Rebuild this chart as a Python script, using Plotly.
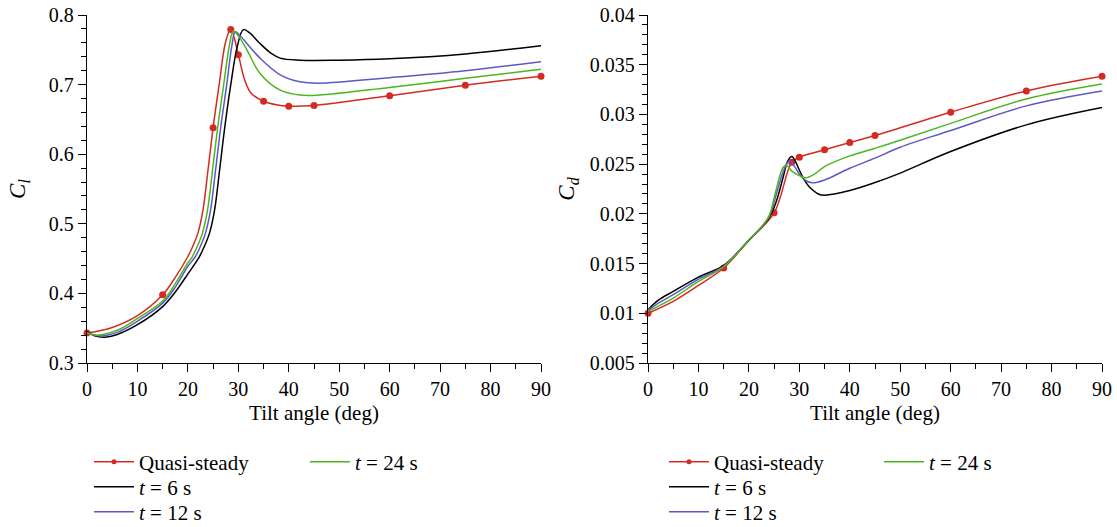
import plotly.graph_objects as go

# ---------------- lift coefficient C_l ----------------
# Quasi-steady markers
qs_angle = [0, 15, 25, 28.5, 30, 35, 40, 45, 60, 75, 90]
qs_cl = [0.343, 0.398, 0.638, 0.779, 0.743, 0.676, 0.669, 0.670, 0.684, 0.699, 0.712]
# Quasi-steady curve (passes through the markers)
qs_cl_line_angle = [0, 5, 10, 15, 17.5, 20, 21, 22, 23, 24, 25, 26.2, 27.5, 28.5, 30, 31.2,
                    32.5, 35, 37.5, 40, 45, 60, 75, 90]
qs_cl_line = [0.343, 0.351, 0.368, 0.398, 0.423, 0.453, 0.468, 0.487, 0.520, 0.578, 0.638,
              0.700, 0.762, 0.779, 0.743, 0.708, 0.688, 0.676, 0.671, 0.669, 0.670, 0.684,
              0.699, 0.712]

t6_cl_angle = [0, 1.5, 3.5, 6, 10, 15, 17.5, 20, 22.3, 23.3, 24.3, 25.3, 26.3, 27.3, 28.5,
               29.8, 31.0, 32.3, 34.3, 36.5, 38.3, 42.2, 50, 60, 75, 90]
t6_cl = [0.345, 0.339, 0.337, 0.341, 0.355, 0.381, 0.402, 0.428, 0.453, 0.468, 0.487,
         0.520, 0.578, 0.638, 0.700, 0.755, 0.779, 0.774, 0.759, 0.745, 0.738, 0.735,
         0.735, 0.737, 0.744, 0.756]

t12_cl_angle = [0, 2.5, 6, 10, 15, 17.5, 20, 21.5, 22.5, 23.5, 24.5, 25.5, 26.5, 27.7,
                28.7, 29.4, 30.5, 31.7, 34.3, 38.3, 42.2, 46, 60, 75, 90]
t12_cl = [0.344, 0.339, 0.344, 0.360, 0.386, 0.409, 0.439, 0.453, 0.468, 0.487, 0.520,
          0.578, 0.638, 0.700, 0.755, 0.776, 0.769, 0.759, 0.738, 0.714, 0.704, 0.702,
          0.710, 0.720, 0.733]

t24_cl_angle = [0, 2, 6, 10, 15, 17.5, 20, 20.9, 21.9, 22.9, 23.9, 24.9, 25.9, 27.1, 28.2,
                29, 30, 31.7, 34.3, 38.3, 42.2, 46, 60, 75, 90]
t24_cl = [0.343, 0.340, 0.347, 0.364, 0.389, 0.414, 0.444, 0.453, 0.468, 0.487, 0.520,
          0.578, 0.638, 0.700, 0.755, 0.777, 0.770, 0.750, 0.716, 0.692, 0.685, 0.685,
          0.696, 0.709, 0.722]

# ---------------- drag coefficient C_d ----------------
qs_cd = [0.0100, 0.01455, 0.0201, 0.0252, 0.0257, 0.02644, 0.02717, 0.02788, 0.03022,
         0.03236, 0.03384]
qs_cd_line_angle = [0, 5, 10, 15, 20, 25, 28.5, 30, 35, 40, 45, 60, 75, 90]
qs_cd_line = [0.0100, 0.0112, 0.0128, 0.01455, 0.01733, 0.0201, 0.0252, 0.0257, 0.02644,
              0.02717, 0.02788, 0.03022, 0.03236, 0.03384]

t6_cd_angle = [0, 2, 5, 10, 15, 20, 22, 24, 25.4, 26.8, 27.7, 28.5, 29.2, 30, 31, 32,
               34, 35, 40, 45, 50, 60, 75, 90]
t6_cd = [0.01036, 0.0113, 0.0122, 0.01364, 0.01481, 0.01735, 0.0184, 0.0196, 0.0212,
         0.0237, 0.0253, 0.02577, 0.0253, 0.0244, 0.0234, 0.0227, 0.02195, 0.02188,
         0.02235, 0.02315, 0.0241, 0.02627, 0.02895, 0.03069]

t12_cd_angle = [0, 2, 5, 10, 15, 20, 22, 24, 25.4, 26.8, 28, 29, 30, 31, 32.5, 35, 40,
                45, 50, 60, 75, 90]
t12_cd = [0.0103, 0.0110, 0.01187, 0.01344, 0.01475, 0.01737, 0.0184, 0.0197, 0.0219,
          0.02424, 0.02535, 0.0248, 0.0240, 0.02345, 0.02312, 0.0234, 0.02459, 0.0256,
          0.0267, 0.02838, 0.03086, 0.03236]

t24_cd_angle = [0, 2, 5, 10, 15, 20, 22, 24, 25.4, 26.8, 27.5, 28.5, 30, 31.2, 33, 35,
                40, 45, 50, 60, 75, 90]
t24_cd = [0.0102, 0.0107, 0.01153, 0.0132, 0.01468, 0.01737, 0.0184, 0.0198, 0.0224,
          0.02468, 0.02486, 0.0243, 0.02385, 0.02363, 0.0240, 0.02475, 0.02583, 0.0266,
          0.0274, 0.0291, 0.03156, 0.03307]

cl_ticks = [0.3, 0.4, 0.5, 0.6, 0.7, 0.8]
cl_ticktext = ["0.3", "0.4", "0.5", "0.6", "0.7", "0.8"]
cd_ticks = [0.005, 0.01, 0.015, 0.02, 0.025, 0.03, 0.035, 0.04]
cd_ticktext = ["0.005", "0.01", "0.015", "0.02", "0.025", "0.03", "0.035", "0.04"]
angle_ticks = [0, 10, 20, 30, 40, 50, 60, 70, 80, 90]

RED = "#d42a22"
BLACK = "#000000"
BLUE = "#5a5ac6"
GREEN = "#4db51c"
FONT = "Liberation Serif"
LW = 1.5

fig = go.Figure()


def add_panel(xa, ya, qs_line_x, qs_line_y, qs_y, curves, legends):
    # quasi-steady smooth curve
    fig.add_trace(go.Scatter(x=qs_line_x, y=qs_line_y, mode="lines",
                             line=dict(color=RED, width=LW, shape="spline"),
                             xaxis=xa, yaxis=ya, showlegend=False, hoverinfo="skip"))
    # quasi-steady sample points
    fig.add_trace(go.Scatter(x=qs_angle, y=qs_y, mode="markers",
                             marker=dict(color=RED, size=7), cliponaxis=False,
                             xaxis=xa, yaxis=ya, showlegend=False))
    # legend entry for the quasi-steady series
    fig.add_trace(go.Scatter(x=[None], y=[None], mode="lines+markers", name="Quasi-steady",
                             line=dict(color=RED, width=LW), marker=dict(color=RED, size=5),
                             xaxis=xa, yaxis=ya, legend=legends[0]))
    for (cx, cy, color, name), lg in zip(curves, legends[1:]):
        fig.add_trace(go.Scatter(x=cx, y=cy, mode="lines", name=name,
                                 line=dict(color=color, width=LW, shape="spline"),
                                 xaxis=xa, yaxis=ya, legend=lg))


add_panel("x", "y", qs_cl_line_angle, qs_cl_line, qs_cl,
          [(t6_cl_angle, t6_cl, BLACK, "<i>t</i> = 6 s"),
           (t12_cl_angle, t12_cl, BLUE, "<i>t</i> = 12 s"),
           (t24_cl_angle, t24_cl, GREEN, "<i>t</i> = 24 s")],
          ["legend", "legend2", "legend3", "legend4"])
add_panel("x2", "y2", qs_cd_line_angle, qs_cd_line, qs_cd,
          [(t6_cd_angle, t6_cd, BLACK, "<i>t</i> = 6 s"),
           (t12_cd_angle, t12_cd, BLUE, "<i>t</i> = 12 s"),
           (t24_cd_angle, t24_cd, GREEN, "<i>t</i> = 24 s")],
          ["legend5", "legend6", "legend7", "legend8"])

W, H = 1117, 527
left_dom = [87 / W, 541 / W]
right_dom = [648 / W, 1102 / W]
y_dom = [1 - 363 / H, 1 - 15 / H]

axis_common = dict(showline=True, linecolor="black", linewidth=1.3, showgrid=False,
                   zeroline=False, ticks="outside", ticklen=8, tickwidth=1.2,
                   tickcolor="black", tickfont=dict(family=FONT, size=20, color="black"),
                   automargin=False)
minor_common = dict(ticks="outside", ticklen=5, tickwidth=1.2, tickcolor="black",
                    showgrid=False)

fig.update_layout(
    width=W, height=H, margin=dict(l=0, r=0, t=0, b=0, autoexpand=False),
    paper_bgcolor="white", plot_bgcolor="white",
    font=dict(family=FONT, size=20, color="black"),
    xaxis=dict(axis_common, domain=left_dom, range=[0, 90], tickvals=angle_ticks,
               minor=dict(minor_common, dtick=5, tick0=0), anchor="y",
               title=dict(text="Tilt angle (deg)", font=dict(size=21), standoff=6)),
    yaxis=dict(axis_common, domain=y_dom, range=[0.3, 0.8], tickvals=cl_ticks,
               ticktext=cl_ticktext, minor=dict(minor_common, dtick=0.02, tick0=0.3),
               anchor="x",
               title=dict(text="<i>C<sub>l</sub></i>", font=dict(size=23), standoff=16)),
    xaxis2=dict(axis_common, domain=right_dom, range=[0, 90], tickvals=angle_ticks,
                minor=dict(minor_common, dtick=5, tick0=0), anchor="y2",
                title=dict(text="Tilt angle (deg)", font=dict(size=21), standoff=6)),
    yaxis2=dict(axis_common, domain=y_dom, range=[0.005, 0.04], tickvals=cd_ticks,
                ticktext=cd_ticktext, minor=dict(minor_common, dtick=0.001, tick0=0.005),
                anchor="x2",
                title=dict(text="<i>C<sub>d</sub></i>", font=dict(size=23), standoff=8)),
)

# one legend box per entry: two columns under each panel
row_y = [1 - 462 / H, 1 - 487 / H, 1 - 512 / H]
col_x_left = [89 / W, 305 / W]
col_x_right = [664 / W, 879 / W]
legend_pos = {
    "legend": (col_x_left[0], row_y[0]),
    "legend2": (col_x_left[0], row_y[1]),
    "legend3": (col_x_left[0], row_y[2]),
    "legend4": (col_x_left[1], row_y[0]),
    "legend5": (col_x_right[0], row_y[0]),
    "legend6": (col_x_right[0], row_y[1]),
    "legend7": (col_x_right[0], row_y[2]),
    "legend8": (col_x_right[1], row_y[0]),
}
for key, (lx, ly) in legend_pos.items():
    fig.update_layout({key: dict(x=lx, y=ly, xanchor="left", yanchor="middle",
                                 xref="paper", yref="paper", bgcolor="rgba(0,0,0,0)",
                                 borderwidth=0, itemwidth=40,
                                 font=dict(family=FONT, size=21, color="black"))})

fig.write_html("out.html")
